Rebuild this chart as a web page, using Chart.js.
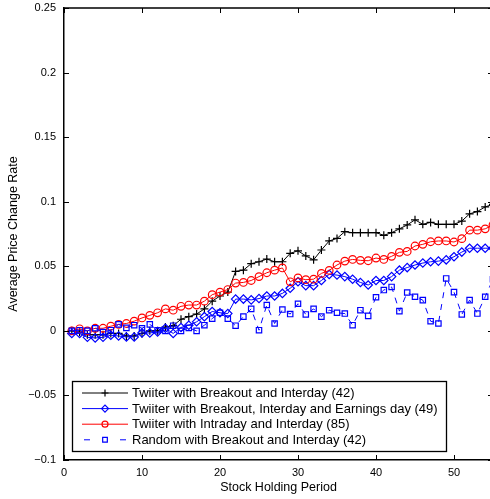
<!DOCTYPE html>
<html>
<head>
<meta charset="utf-8">
<script src="https://cdn.jsdelivr.net/npm/chart.js@4/dist/chart.umd.min.js"></script>
<style>
html,body{margin:0;padding:0;background:#fff;overflow:hidden;}
#wrap{width:500px;height:499px;}
</style>
</head>
<body>
<div id="wrap"><canvas id="c" width="500" height="499"></canvas></div>
<script>
const holdingPeriods = [1,2,3,4,5,6,7,8,9,10,11,12,13,14,15,16,17,18,19,20,21,22,23,24,25,26,27,28,29,30,31,32,33,34,35,36,37,38,39,40,41,42,43,44,45,46,47,48,49,50,51,52,53,54,55];

const seriesLabels = [
  "Twiiter with Breakout and Interday (42)",
  "Twiiter with Breakout, Interday and Earnings day (49)",
  "Twiiter with Intraday and Interday (85)",
  "Random with Breakout and Interday (42)"
];

const breakoutInterday = [0.000,-0.001,-0.003,-0.003,-0.003,-0.002,-0.002,-0.004,-0.004,-0.002,0.000,0.000,0.003,0.004,0.009,0.011,0.013,0.017,0.023,0.027,0.030,0.046,0.047,0.052,0.0535,0.0556,0.0535,0.0535,0.060,0.062,0.058,0.055,0.0626,0.0696,0.0716,0.0768,0.076,0.076,0.076,0.076,0.074,0.076,0.079,0.082,0.086,0.0825,0.084,0.0825,0.0825,0.0825,0.085,0.0906,0.0924,0.096,0.098];

const breakoutInterdayEarnings = [-0.002,-0.002,-0.005,-0.0055,-0.005,-0.0034,-0.004,-0.0047,-0.0047,-0.0016,-0.0016,-0.0008,0.002,-0.002,0.0026,0.0044,0.007,0.011,0.015,0.014,0.0134,0.0246,0.0246,0.024,0.025,0.027,0.027,0.029,0.033,0.038,0.035,0.035,0.039,0.0437,0.0432,0.042,0.040,0.0375,0.0355,0.039,0.039,0.042,0.047,0.049,0.051,0.0525,0.0535,0.054,0.055,0.0574,0.061,0.064,0.064,0.064,0.064];

const intradayInterday = [0.000,0.0016,0.000,0.002,0.002,0.0036,0.005,0.0057,0.0075,0.010,0.012,0.014,0.017,0.016,0.019,0.020,0.020,0.023,0.028,0.030,0.032,0.037,0.0375,0.039,0.042,0.045,0.047,0.0487,0.038,0.041,0.0396,0.040,0.0445,0.0468,0.051,0.054,0.0553,0.0546,0.0543,0.0564,0.0553,0.0577,0.0608,0.0615,0.0657,0.067,0.069,0.0696,0.0696,0.0688,0.0714,0.078,0.078,0.079,0.082];

const randomBreakoutInterday = [0.000,0.0005,0.000,0.002,-0.001,0.0005,0.005,0.0023,0.0044,0.002,0.005,0.0005,0.000,0.004,0.000,0.0023,0.000,0.0044,0.0095,0.014,0.0095,0.004,0.011,0.017,0.0005,0.020,0.0057,0.0165,0.013,0.021,0.0127,0.017,0.011,0.016,0.014,0.0134,0.0044,0.016,0.0116,0.026,0.0316,0.034,0.0153,0.0297,0.0264,0.0238,0.0075,0.0057,0.0406,0.030,0.0127,0.0238,0.0134,0.0264,0.040];

const yTickValues = [-0.1,-0.05,0,0.05,0.1,0.15,0.2,0.25];
const xTickValues = [0,10,20,30,40,50];

function pts(vals){ return vals.map((v,i)=>({x:holdingPeriods[i], y:v})); }

const FONT = "'Liberation Sans', Arial, Helvetica, sans-serif";

const matlabFrame = {
  id: 'matlabFrame',
  afterDraw(chart, args, opts) {
    const ctx = chart.ctx, a = chart.chartArea;
    const xs = chart.scales.x, ys = chart.scales.y;
    ctx.save();
    ctx.strokeStyle = '#000';
    ctx.lineWidth = 1;
    ctx.beginPath();
    yTickValues.forEach(v => {
      const py = Math.round(ys.getPixelForValue(v)) + 0.5;
      ctx.moveTo(a.left, py); ctx.lineTo(a.left + 5, py);
      ctx.moveTo(a.right, py); ctx.lineTo(a.right - 5, py);
    });
    xTickValues.forEach(v => {
      const px = Math.round(xs.getPixelForValue(v)) + 0.5;
      ctx.moveTo(px, a.bottom); ctx.lineTo(px, a.bottom - 5);
      ctx.moveTo(px, a.top); ctx.lineTo(px, a.top + 5);
    });
    ctx.stroke();
    ctx.lineWidth = 1.5;
    ctx.beginPath();
    ctx.moveTo(a.left, a.top); ctx.lineTo(a.right, a.top); ctx.lineTo(a.right, a.bottom);
    ctx.stroke();

    // legend box
    const bx = a.left + opts.dx, by = a.bottom - opts.dyFromBottom;
    const bw = opts.w, bh = opts.h;
    ctx.fillStyle = '#fff';
    ctx.fillRect(bx, by, bw, bh);
    ctx.lineWidth = 1.3;
    ctx.strokeStyle = '#000';
    ctx.strokeRect(bx + 0.5, by + 0.5, bw, bh);
    ctx.font = opts.font;
    ctx.textBaseline = 'middle';
    chart.data.datasets.forEach((ds, i) => {
      const ry = by + opts.firstRow + i * opts.rowGap;
      const x0 = bx + opts.lineStart, x1 = bx + opts.lineEnd;
      ctx.save();
      ctx.strokeStyle = ds.borderColor;
      ctx.lineWidth = ds.borderWidth;
      ctx.beginPath();
      if (ds.borderDash) {
        ctx.moveTo(x0 + 2, ry); ctx.lineTo(x0 + 8, ry);
        ctx.moveTo(x1 - 8, ry); ctx.lineTo(x1 - 2, ry);
      } else {
        ctx.moveTo(x0, ry); ctx.lineTo(x1, ry);
      }
      ctx.stroke();
      ctx.strokeStyle = ds.pointBorderColor;
      ctx.fillStyle = 'rgba(0,0,0,0)';
      ctx.lineWidth = ds.pointBorderWidth;
      Chart.helpers.drawPoint(ctx, {
        pointStyle: ds.pointStyle, radius: ds.legendRadius, rotation: 0,
        borderWidth: ds.pointBorderWidth
      }, (x0 + x1) / 2, ry);
      ctx.restore();
      ctx.fillStyle = '#000';
      ctx.textAlign = 'left';
      ctx.fillText(ds.label, bx + opts.textStart, ry + 0.5);
    });
    ctx.restore();
  }
};

function noOverflow(s) { s.paddingTop = 0; s.paddingBottom = 0; s.paddingLeft = 0; s.paddingRight = 0; }

new Chart(document.getElementById('c'), {
  type: 'line',
  data: {
    datasets: [
      {label: seriesLabels[0], data: pts(breakoutInterday), borderColor: '#000', pointBorderColor: '#000',
       backgroundColor: 'rgba(0,0,0,0)', pointBackgroundColor: 'rgba(0,0,0,0)', borderWidth: 1,
       pointStyle: 'cross', pointRadius: 4, legendRadius: 3.5, pointBorderWidth: 1.2, order: 4},
      {label: seriesLabels[1], data: pts(breakoutInterdayEarnings), borderColor: '#0000ff', pointBorderColor: '#0000ff',
       backgroundColor: 'rgba(0,0,0,0)', pointBackgroundColor: 'rgba(0,0,0,0)', borderWidth: 1,
       pointStyle: 'rectRot', pointRadius: 4.2, legendRadius: 3.5, pointBorderWidth: 1.2, order: 3},
      {label: seriesLabels[2], data: pts(intradayInterday), borderColor: '#ff0000', pointBorderColor: '#ff0000',
       backgroundColor: 'rgba(0,0,0,0)', pointBackgroundColor: 'rgba(0,0,0,0)', borderWidth: 1,
       pointStyle: 'circle', pointRadius: 3.8, legendRadius: 3, pointBorderWidth: 1.2, order: 2},
      {label: seriesLabels[3], data: pts(randomBreakoutInterday), borderColor: '#0000ff', pointBorderColor: '#0000ff',
       backgroundColor: 'rgba(0,0,0,0)', pointBackgroundColor: 'rgba(0,0,0,0)', borderWidth: 1, borderDash: [6, 6],
       pointStyle: 'rect', pointRadius: 3.8, legendRadius: 3.3, pointBorderWidth: 1.2, order: 1}
    ]
  },
  options: {
    responsive: false,
    animation: false,
    events: [],
    layout: {padding: {top: 8, right: 7, left: 0, bottom: 0}},
    elements: {line: {tension: 0}},
    plugins: {
      legend: {display: false},
      tooltip: {enabled: false},
      matlabFrame: {dx: 8, dyFromBottom: 79, w: 374, h: 70, firstRow: 12, rowGap: 15.6,
        lineStart: 10, lineEnd: 56, textStart: 60, font: "13px " + FONT}
    },
    scales: {
      x: {
        type: 'linear', min: 0, max: 55,
        afterFit: s => { s.height = 39; noOverflow(s); },
        afterBuildTicks: s => { s.ticks = xTickValues.map(v => ({value: v})); },
        grid: {display: true, drawOnChartArea: false, drawTicks: false},
        border: {display: true, color: '#000', width: 1.5},
        ticks: {color: '#000', padding: 6, maxRotation: 0, autoSkip: false,
          font: {family: FONT, size: 11}, callback: v => String(v)},
        title: {display: true, text: 'Stock Holding Period', color: '#000',
          font: {family: FONT, size: 12.5}, padding: {top: 0, bottom: 4}}
      },
      y: {
        type: 'linear', min: -0.1, max: 0.25,
        afterFit: s => { s.width = 64; noOverflow(s); },
        afterBuildTicks: s => { s.ticks = yTickValues.map(v => ({value: v})); },
        grid: {display: true, drawOnChartArea: false, drawTicks: false},
        border: {display: true, color: '#000', width: 1.5},
        ticks: {color: '#000', padding: 8, autoSkip: false,
          font: {family: FONT, size: 11},
          callback: v => String(Math.round(v * 100) / 100).replace('-', '\u2212')},
        title: {display: true, text: 'Average Price Change Rate', color: '#000',
          font: {family: FONT, size: 12.5}, padding: {top: 6, bottom: 0}}
      }
    }
  },
  plugins: [matlabFrame]
});
</script>
</body>
</html>
